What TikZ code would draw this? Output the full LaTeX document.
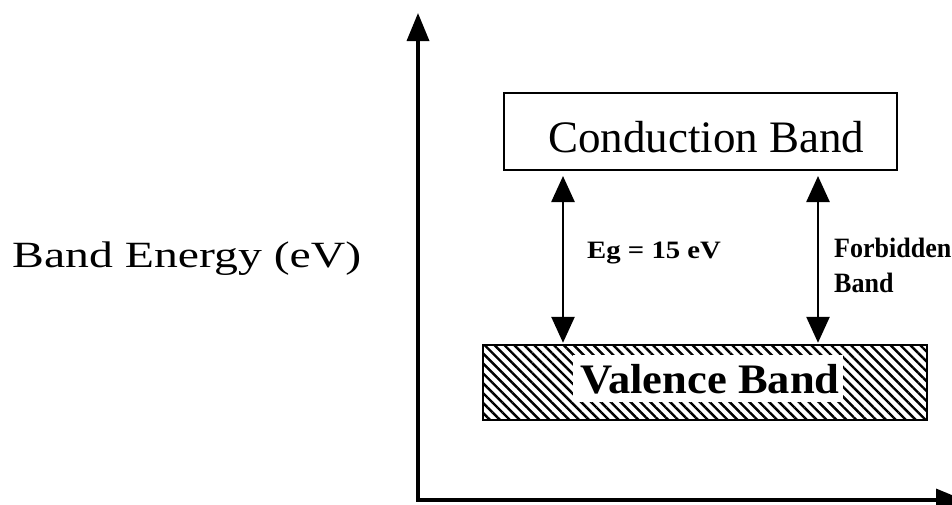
\documentclass[tikz,border=0pt]{standalone}
\usepackage{fontspec}
\setmainfont{Liberation Serif}
\usetikzlibrary{arrows.meta,patterns.meta}
\begin{document}
\begin{tikzpicture}[x=1pt,y=-1pt,
  axis/.style={line width=3.5pt,line cap=rect,-{Triangle[length=28pt,width=22pt]}},
  gaparrow/.style={line width=2.6pt,{Triangle[length=26pt,width=23pt]}-{Triangle[length=26pt,width=23pt]}},
  lbl/.style={inner sep=0pt,anchor=base west}]
\clip (0,0) rectangle (952,504);
\fill[white] (0,0) rectangle (952,504);
% axes
\coordinate (o) at (418,500);
\coordinate (ytop) at (418,13);
\coordinate (xend) at (964,500);
\draw[axis] (o) -- (ytop);
\draw[axis] (o) -- (xend);
% conduction band
\node[draw, line width=2pt, inner sep=0pt, minimum width=393pt, minimum height=77pt] (cb) at (700.5,131.5) {};
\node[lbl, font=\fontsize{45}{50}\selectfont] (cbt) at (548,152) {Conduction Band};
% valence band
\node[draw, line width=2.5pt, inner sep=0pt, minimum width=444pt, minimum height=75pt,
      pattern={Lines[angle=-45,distance=7pt,line width=2.4pt]}] (vb) at (705,382.5) {};
\node[fill=white, inner sep=0pt, minimum width=270pt, minimum height=47pt] (vw) at (708,378.5) {};
\node[lbl, font=\bfseries\fontsize{42}{46}\selectfont] (vbt) at (580,393) {\scalebox{1.06}[1]{Valence Band}};
% gap arrows
\coordinate (a1) at (563,0);
\coordinate (a2) at (818,0);
\draw[gaparrow, shorten <=5pt, shorten >=1pt] (a1 |- cb.south) -- (a1 |- vb.north);
\draw[gaparrow, shorten <=5pt, shorten >=1pt] (a2 |- cb.south) -- (a2 |- vb.north);
% labels
\node[lbl, font=\bfseries\fontsize{25}{28}\selectfont] (eg) at (587,258) {\scalebox{1.15}[1]{Eg = 15 eV}};
\node[lbl, font=\bfseries\fontsize{28}{30}\selectfont] (fb1) at (834,257) {\scalebox{0.93}[1]{Forbidden}};
\node[lbl, font=\bfseries\fontsize{28}{30}\selectfont] (fb2) at (834,292) {\scalebox{0.93}[1]{Band}};
\node[lbl, font=\fontsize{37}{40}\selectfont] (yl) at (12,267) {\scalebox{1.29}[1]{Band Energy (eV)}};
\end{tikzpicture}
\end{document}
